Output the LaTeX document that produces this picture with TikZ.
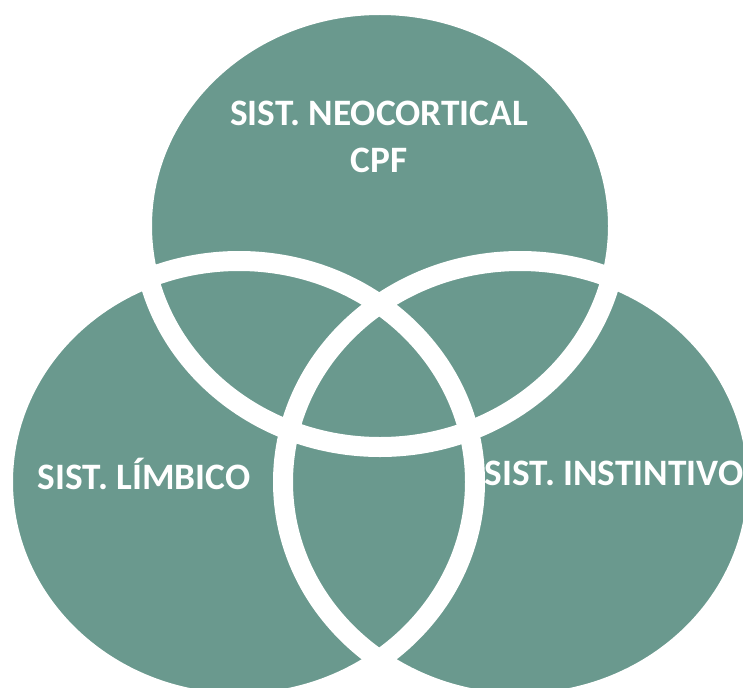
\documentclass[tikz,border=0pt]{standalone}
\usepackage{fontspec}
\setmainfont{Carlito}
\usetikzlibrary{positioning}
\definecolor{venngreen}{RGB}{106,153,142}

\begin{document}
\begin{tikzpicture}[x=1pt,y=-1pt,
        set/.style={fill=venngreen},
        rim/.style={draw=white,line width=20pt},
        setlabel/.style={text=white,inner sep=0pt,anchor=base,font=\bfseries\fontsize{37.3}{46}\selectfont}]
        \useasboundingbox (0,0) rectangle (743,687);
        \clip (0,0) rectangle (743,687);

        \coordinate (neo) at (380,226);
        \coordinate (lim) at (239,482);
        \coordinate (ins) at (520,482);

        \fill [set] (neo) ellipse [x radius=238pt, y radius=221pt];
        \fill [set] (lim) ellipse [x radius=236pt, y radius=221pt];
        \fill [set] (ins) ellipse [x radius=237pt, y radius=221pt];

        \draw [rim] (neo) ellipse [x radius=238pt, y radius=221pt];
        \draw [rim] (lim) ellipse [x radius=236pt, y radius=221pt];
        \draw [rim] (ins) ellipse [x radius=237pt, y radius=221pt];

        \node [setlabel] (a) at (379,126) {SIST. NEOCORTICAL};
        \node [setlabel] (b) at (379,172) {CPF};
        \node [setlabel] (c) at (144,489) {SIST. LÍMBICO};
        \node [setlabel] (d) at (614,485) {SIST. INSTINTIVO};
    \end{tikzpicture}
\end{document}
